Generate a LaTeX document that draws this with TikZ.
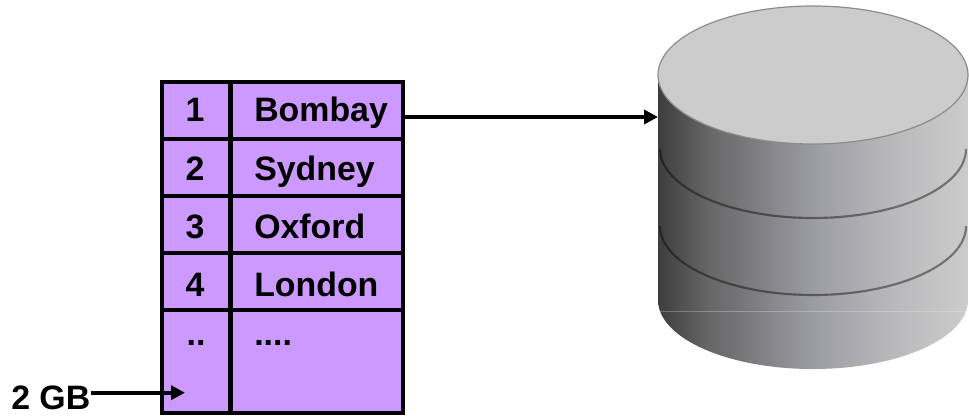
\documentclass[tikz,border=0pt]{standalone}
\usepackage{fontspec}
\setmainfont{Liberation Sans}
\usetikzlibrary{arrows.meta}
\pgfdeclarehorizontalshading{cylshade}{100bp}{
  rgb(0bp)=(0.24,0.24,0.24);
  rgb(25bp)=(0.24,0.24,0.24);
  rgb(33bp)=(0.40,0.40,0.40);
  rgb(50bp)=(0.61,0.61,0.64);
  rgb(62bp)=(0.72,0.72,0.73);
  rgb(75bp)=(0.80,0.80,0.80);
  rgb(100bp)=(0.80,0.80,0.80)}
\definecolor{tablefill}{HTML}{CC99FF}
\tikzset{
  x=0.75pt,y=-0.75pt,
  cell/.style={draw=black,line width=3pt,fill=tablefill,inner sep=0pt,outer sep=0pt},
  cellnum/.style={font=\bfseries\fontsize{25.4}{30}\selectfont,anchor=base,inner sep=0pt,text=black},
  celltxt/.style={font=\bfseries\fontsize{25.4}{30}\selectfont,anchor=base west,inner sep=0pt,text=black},
  conn/.style={draw=black,line width=2.8pt,-{Triangle[length=10.5pt,width=10.5pt]}},
  band/.style={draw=black,line width=1.6pt,draw opacity=0.42}
}
\begin{document}
\begin{tikzpicture}
\useasboundingbox (0,0) rectangle (969,415);
\fill[white] (0,0) rectangle (969,415);
% cylinder
\path[shading=cylshade] (658,75) -- (658,300) arc[start angle=180,end angle=0,x radius=155,y radius=69] -- (968,75) -- cycle;
\draw[band] (660,149) arc[start angle=180,end angle=0,x radius=153,y radius=69];
\draw[band] (660,226) arc[start angle=180,end angle=0,x radius=153,y radius=69];
\draw[white,opacity=0.25,line width=0.5pt] (660,311) -- (968,311);
\draw[draw=black!45,fill=black!20,line width=0.9pt] (813,75) ellipse[x radius=155,y radius=69];
\coordinate (disk) at (658,117);
% table
\node[cell,minimum width=51pt,minimum height=42.75pt,anchor=north west] (n1) at (162,82) {};
\node[cell,minimum width=129.5pt,minimum height=42.75pt,anchor=north west] (c1) at (230.5,82) {};
\node[cell,minimum width=51pt,minimum height=42.75pt,anchor=north west] (n2) at (162,139) {};
\node[cell,minimum width=129.5pt,minimum height=42.75pt,anchor=north west] (c2) at (230.5,139) {};
\node[cell,minimum width=51pt,minimum height=42.75pt,anchor=north west] (n3) at (162,196) {};
\node[cell,minimum width=129.5pt,minimum height=42.75pt,anchor=north west] (c3) at (230.5,196) {};
\node[cell,minimum width=51pt,minimum height=42.75pt,anchor=north west] (n4) at (162,253) {};
\node[cell,minimum width=129.5pt,minimum height=42.75pt,anchor=north west] (c4) at (230.5,253) {};
\node[cell,minimum width=51pt,minimum height=77.25pt,anchor=north west] (n5) at (162,310) {};
\node[cell,minimum width=129.5pt,minimum height=77.25pt,anchor=north west] (c5) at (230.5,310) {};
\node[cellnum] (t1) at (195,121.7) {1};
\node[cellnum] (t2) at (195,180) {2};
\node[cellnum] (t3) at (195,238) {3};
\node[cellnum] (t4) at (195,296) {4};
\node[cellnum] (t5) at (196,345) {..};
\node[celltxt] (b1) at (254,121.7) {Bombay};
\node[celltxt] (b2) at (254,180) {Sydney};
\node[celltxt] (b3) at (254,238) {Oxford};
\node[celltxt] (b4) at (254,296) {London};
\node[celltxt] (b5) at (254,345) {....};
\node[celltxt] (gb) at (11,409) {2 GB};
\coordinate (gbend) at (185,392.7);
\draw[conn] (c1.east |- disk) -- (disk);
\draw[conn] (gb.east |- gbend) -- (gbend);
\end{tikzpicture}
\end{document}
